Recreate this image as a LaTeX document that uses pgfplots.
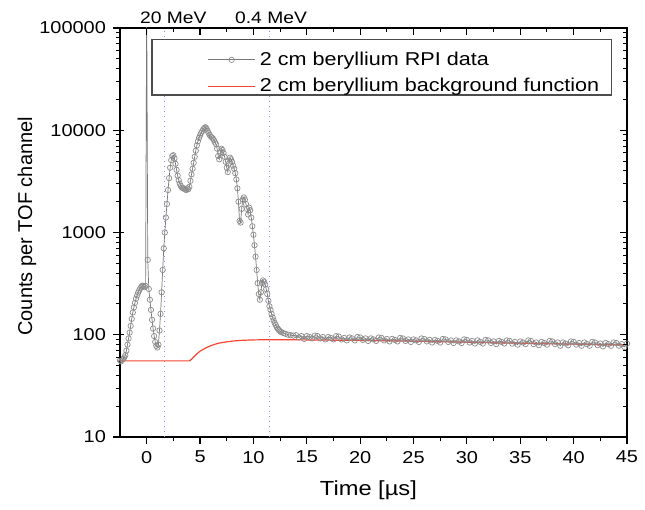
\documentclass[border=0pt]{standalone}
\usepackage{fontspec}
\setmainfont{Liberation Sans}[FakeStretch=1.16]
\newfontfamily\ylfont{Liberation Sans}
\usepackage{pgfplots}
\pgfplotsset{compat=1.18}
\usepackage{pgfplotstable}

\definecolor{datgray}{RGB}{120,120,120}
\definecolor{mkgray}{RGB}{140,140,140}
\definecolor{bgred}{RGB}{245,70,50}
\definecolor{mevblue}{RGB}{140,140,255}

\pgfplotstableread{
x y
-2.5 56
-2.4 55
-2.3 57
-2.2 58
-2.1 60
-2.0 63
-1.9 70
-1.8 80
-1.7 92
-1.6 105
-1.5 122
-1.4 143
-1.3 165
-1.2 185
-1.1 205
-1.0 225
-0.9 242
-0.8 258
-0.7 272
-0.6 285
-0.5 295
-0.4 302
-0.3 300
-0.2 292
-0.1 300
0.0 200000
0.1 540
0.2 280
0.3 220
0.4 175
0.5 140
0.6 115
0.7 97
0.8 85
0.9 78
1.0 75
1.1 80
1.2 110
1.3 160
1.4 260
1.5 430
1.6 700
1.7 1000
1.8 1400
1.9 1900
2.0 2600
2.1 3400
2.2 4300
2.3 5100
2.4 5600
2.5 5700
2.6 5300
2.7 4700
2.8 4100
2.9 3600
3.0 3250
3.1 3000
3.2 2850
3.3 2750
3.4 2700
3.5 2700
3.6 2650
3.7 2600
3.8 2700
3.9 2650
4.0 2800
4.1 3200
4.2 3700
4.3 4200
4.4 4800
4.5 5500
4.6 6300
4.7 7100
4.8 7800
4.9 8400
5.0 8900
5.1 9400
5.2 9800
5.3 10200
5.4 10500
5.5 10700
5.6 10400
5.7 9900
5.8 9400
5.9 9000
6.0 8700
6.1 8500
6.2 8300
6.3 8000
6.4 7600
6.5 7300
6.6 6600
6.7 5600
6.8 5200
6.9 6000
7.0 6600
7.1 6400
7.2 6000
7.3 5500
7.4 4900
7.5 4300
7.6 3900
7.7 4700
7.8 5400
7.9 5200
8.0 4900
8.1 4500
8.2 4200
8.3 3800
8.4 3300
8.5 2700
8.6 2000
8.7 1300
8.8 1250
8.9 1700
9.0 2100
9.1 2200
9.2 2100
9.3 1900
9.4 1700
9.5 1500
9.6 1750
9.7 1650
9.8 1400
9.9 1150
10.0 950
10.1 750
10.2 580
10.3 430
10.4 320
10.5 250
10.6 220
10.7 260
10.8 320
10.9 340
11.0 330
11.1 310
11.2 280
11.3 250
11.4 215
11.5 190
11.6 175
11.7 160
11.8 148
11.9 138
12.0 130
12.1 124
12.2 118
12.3 114
12.4 111
12.5 108
12.6 106
12.8 104
13.0 102
13.25 100
13.5 99
13.75 98
14.00 99
14.25 94
14.50 97
14.75 91
15.00 97
15.25 95
15.50 92
15.75 98
16.00 97
16.25 92
16.50 95
16.75 90
17.00 95
17.25 93
17.50 90
17.75 97
18.00 96
18.25 90
18.50 93
18.75 88
19.00 94
19.25 92
19.50 88
19.75 95
20.00 94
20.25 89
20.50 92
20.75 87
21.00 92
21.25 90
21.50 87
21.75 94
22.00 93
22.25 88
22.50 91
22.75 86
23.00 91
23.25 89
23.50 86
23.75 93
24.00 92
24.25 87
24.50 90
24.75 85
25.00 90
25.25 88
25.50 85
25.75 92
26.00 91
26.25 86
26.50 89
26.75 84
27.00 89
27.25 87
27.50 84
27.75 91
28.00 90
28.25 85
28.50 88
28.75 83
29.00 88
29.25 86
29.50 83
29.75 90
30.00 89
30.25 84
30.50 87
30.75 82
31.00 88
31.25 85
31.50 82
31.75 89
32.00 88
32.25 83
32.50 86
32.75 81
33.00 87
33.25 85
33.50 82
33.75 88
34.00 87
34.25 82
34.50 85
34.75 80
35.00 86
35.25 84
35.50 81
35.75 88
36.00 87
36.25 81
36.50 84
36.75 79
37.00 85
37.25 83
37.50 80
37.75 87
38.00 86
38.25 81
38.50 84
38.75 78
39.00 84
39.25 82
39.50 79
39.75 86
40.00 85
40.25 80
40.50 83
40.75 78
41.00 84
41.25 81
41.50 78
41.75 85
42.00 84
42.25 79
42.50 82
42.75 77
43.00 83
43.25 81
43.50 78
43.75 84
44.00 83
44.25 78
44.50 81
44.75 76
45.00 82
}\rpidata

\pgfplotstableread{
x y
-2.5 55.5
4.0 55.5
4.2 57.5
4.4 60.5
4.7 65
5.0 69
5.4 73
5.8 76.5
6.2 79.5
6.7 82.5
7.4 85
8.2 87
9.0 88.2
9.8 88.9
11 89.3
13 89.3
15 89
20 88
25 86.5
30 84.5
35 82.5
40 81
45 79.5
}\bgdata

\begin{document}
\begin{tikzpicture}
\begin{axis}[
  scale only axis, width=253.5pt, height=204.5pt,
  xmin=-2.5, xmax=45, ymode=log, ymin=10, ymax=100000,
  xtick={0,5,...,45}, minor x tick num=1,
  ytick={10,100,1000,10000,100000},
  axis line style={line width=0.75pt},
  major tick length=3.5pt, minor tick length=2.2pt,
  tick style={draw=none},
  tick align=outside,
  yticklabels={10,100,1000,10000,100000},
  tick label style={font=\fontsize{8.6}{10}\selectfont},
  /pgf/number format/assume math mode=true,
  xlabel={Time [µs]},
  ylabel={Counts per TOF channel},
  xlabel style={font=\fontsize{10.2}{12}\selectfont, at={(axis description cs:0.49,-0.1296)}, anchor=center},
  ylabel style={font=\ylfont\fontsize{10}{12}\selectfont, at={(axis description cs:-0.1834,0.515)}, anchor=center},
  legend cell align=left,
  legend style={at={(rel axis cs:0.172,0.953)}, anchor=north west, draw=none, fill=none,
    font=\fontsize{9.3}{11}\selectfont, inner sep=0pt, row sep=1.2pt},
  legend image code/.code={\draw[mark repeat=2,mark phase=2,#1] plot coordinates {(0pt,0pt) (11.75pt,0pt) (23.5pt,0pt)};},
]
\coordinate (ll) at (rel axis cs:0,0);
\coordinate (ur) at (rel axis cs:1,1);
\coordinate (ul) at (rel axis cs:0,1);
\coordinate (lr) at (rel axis cs:1,0);
\coordinate (m20) at (axis cs:2.5,100000);
\coordinate (m04) at (axis cs:11.65,100000);
\addplot[mevblue, dotted, line width=0.5pt, forget plot] coordinates {(1.7,10) (1.7,100000)};
\addplot[mevblue, dotted, line width=0.5pt, forget plot] coordinates {(11.55,10) (11.55,100000)};
\draw[black!70, line width=0.6pt, fill=white] (rel axis cs:0.063,0.836) rectangle (rel axis cs:0.970,0.971);
\addplot[datgray, line width=0.35pt, mark=o, mark size=1.35pt,
  mark options={draw=mkgray, fill=white, line width=0.35pt}] table[x=x,y=y] {\rpidata};
\addlegendentry{2 cm beryllium RPI data}
\addplot[bgred, line width=0.6pt, no marks] table[x=x,y=y] {\bgdata};
\addlegendentry{2 cm beryllium background function}
\end{axis}
% axis ticks: bottom/left outward, top/right inward
\foreach \v in {0,5,...,45} {
  \draw[line width=0.6pt] ([shift={({(\v+2.5)/47.5*253.5pt},0.3pt)}]ll) -- ++(0pt,-3.8pt);
  \draw[line width=0.6pt] ([shift={({(\v+2.5)/47.5*253.5pt},0pt)}]ul) -- ++(0pt,-3.5pt);
}
\foreach \v in {2.5,7.5,...,42.5} {
  \draw[line width=0.5pt] ([shift={({(\v+2.5)/47.5*253.5pt},0.3pt)}]ll) -- ++(0pt,-2.5pt);
  \draw[line width=0.5pt] ([shift={({(\v+2.5)/47.5*253.5pt},0pt)}]ul) -- ++(0pt,-2.2pt);
}
\foreach \d in {0,1,2,3,4} {
  \draw[line width=0.6pt] ([shift={(2pt,{\d/4*204.5pt})}]ll) -- ++(-5.5pt,0pt);
  \draw[line width=0.6pt] ([shift={(0pt,{\d/4*204.5pt})}]lr) -- ++(-3.5pt,0pt);
}
\foreach \d in {0,1,2,3} {
  \foreach \k in {2,...,9} {
    \draw[line width=0.5pt] ([shift={(0.3pt,{(\d+log10(\k))/4*204.5pt})}]ll) -- ++(-2.5pt,0pt);
    \draw[line width=0.5pt] ([shift={(0pt,{(\d+log10(\k))/4*204.5pt})}]lr) -- ++(-2.2pt,0pt);
  }
}
\node[anchor=south, inner sep=0pt, yshift=2pt, font=\fontsize{8.3}{10}\selectfont] at (m20) {20 MeV};
\node[anchor=south, inner sep=0pt, yshift=2pt, font=\fontsize{8.3}{10}\selectfont] at (m04) {0.4 MeV};
\pgfresetboundingbox
\path ([shift={(-60pt,-36.5pt)}]ll) rectangle ([shift={(9pt,14pt)}]ur);
\end{tikzpicture}
\end{document}
